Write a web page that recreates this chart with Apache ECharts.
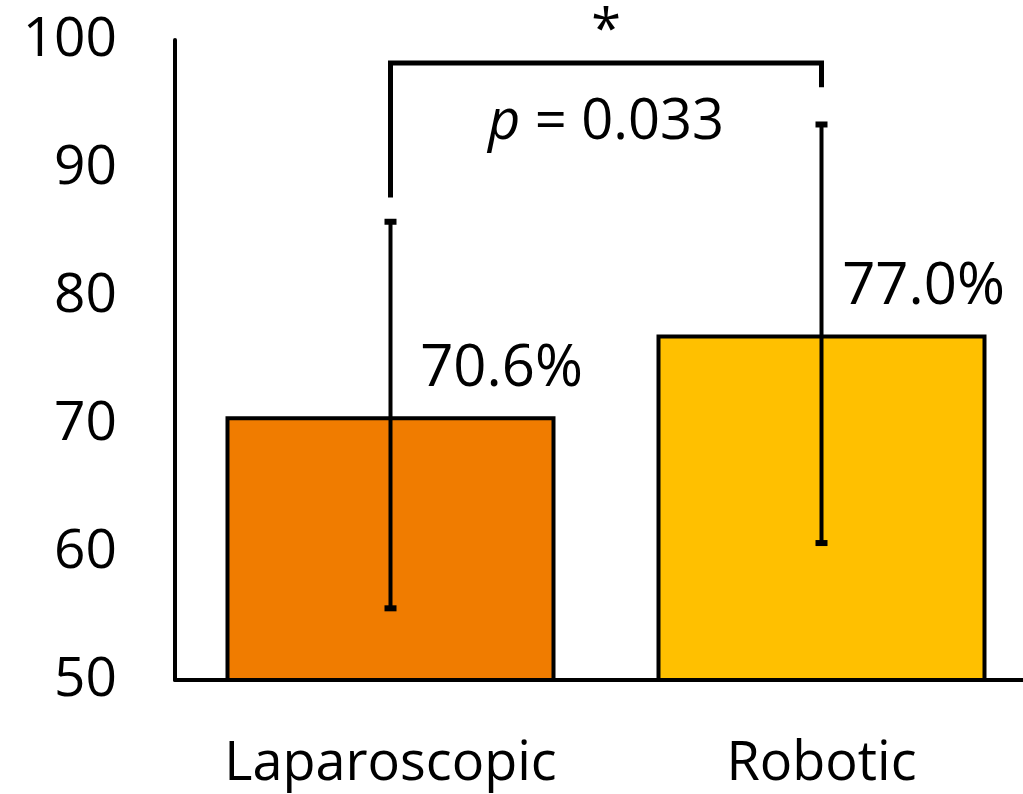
<!DOCTYPE html>
<html>
<head>
<meta charset="utf-8">
<script src="https://cdn.jsdelivr.net/npm/echarts@6/dist/echarts.min.js"></script>
<style>
html,body{margin:0;padding:0;background:#fff;}
#chart{width:1023px;height:794px;}
</style>
</head>
<body>
<div id="chart"></div>
<script>
// Data
var categories = ['Laparoscopic', 'Robotic'];
var means = [70.6, 77.0];
var errLow = [55.6, 60.7];
var errHigh = [85.8, 93.4];
var barColors = ['#F07C00', '#FFC000'];
var yTicks = { min: 50, max: 100, interval: 10 };
// significance bracket (y values) : left end, top, right end
var bracketLeft = [87.7];
var bracketTop = [98.2];
var bracketRight = [96.3];
var starText = '*';
var pText = '0.033';

var FONT = 'Open Sans';
var labelOffsetX = [111, 102];

var barData = means.map(function (v, i) {
  return { value: v, itemStyle: { color: barColors[i] }, label: { offset: [labelOffsetX[i], 0] } };
});
var errData = categories.map(function (c, i) { return [i, errLow[i], errHigh[i]]; });
var bracketData = bracketTop.map(function (t, i) { return [0, bracketLeft[i], t, 1, bracketRight[i]]; });

var chart = echarts.init(document.getElementById('chart'), null, { renderer: 'canvas' });
chart.setOption({
  animation: false,
  backgroundColor: '#ffffff',
  grid: { left: 175, top: 40, width: 862, height: 640, containLabel: false, outerBoundsMode: 'none' },
  xAxis: {
    type: 'category',
    data: categories,
    axisLine: { show: true, lineStyle: { color: '#000', width: 4 } },
    axisTick: { show: false },
    axisLabel: { color: '#000', fontFamily: FONT, fontSize: 54, margin: 58, interval: 0, hideOverlap: false },
    splitLine: { show: false }
  },
  yAxis: {
    type: 'value',
    min: yTicks.min, max: yTicks.max, interval: yTicks.interval,
    axisLine: { show: true, lineStyle: { color: '#000', width: 4 } },
    axisTick: { show: false },
    axisLabel: { color: '#000', fontFamily: FONT, fontSize: 55, margin: 58 },
    splitLine: { show: false }
  },
  series: [
    {
      type: 'bar',
      data: barData,
      barWidth: 330,
      itemStyle: { borderColor: '#000', borderWidth: 4 },
      label: {
        show: true,
        position: 'top',
        distance: 18,
        color: '#000',
        fontFamily: FONT,
        fontSize: 58,
        formatter: function (p) { return p.value.toFixed(1) + '%'; }
      },
      z: 2
    },
    {
      type: 'custom',
      data: errData,
      clip: false,
      z: 5,
      renderItem: function (params, api) {
        var x = api.value(0);
        var lo = api.coord([x, api.value(1)]);
        var hi = api.coord([x, api.value(2)]);
        return {
          type: 'group',
          children: [
            { type: 'line', shape: { x1: lo[0], y1: lo[1], x2: hi[0], y2: hi[1] }, style: { stroke: '#000', lineWidth: 4 } },
            { type: 'rect', shape: { x: hi[0] - 6, y: hi[1] - 3, width: 12, height: 6 }, style: { fill: '#000' } },
            { type: 'rect', shape: { x: lo[0] - 6, y: lo[1] - 3, width: 12, height: 6 }, style: { fill: '#000' } }
          ]
        };
      }
    },
    {
      type: 'custom',
      data: bracketData,
      clip: false,
      z: 6,
      renderItem: function (params, api) {
        var a = api.coord([api.value(0), api.value(1)]);
        var b = api.coord([api.value(0), api.value(2)]);
        var c = api.coord([api.value(3), api.value(2)]);
        var d = api.coord([api.value(3), api.value(4)]);
        var mid = (b[0] + c[0]) / 2;
        return {
          type: 'group',
          children: [
            { type: 'polyline', shape: { points: [a, b, c, d] }, style: { stroke: '#000', lineWidth: 5, fill: null, lineJoin: 'miter' } },
            { type: 'text', x: mid, y: b[1] - 30, style: { text: starText, fill: '#000', font: '54px "' + FONT + '"', align: 'center', verticalAlign: 'middle' } },
            { type: 'text', x: mid, y: b[1] + 60, style: {
                text: '{i|p} = ' + pText, fill: '#000', fontFamily: FONT, fontSize: 56, align: 'center', verticalAlign: 'middle',
                rich: { i: { fontStyle: 'italic', fontFamily: FONT, fontSize: 56, fill: '#000' } }
              } }
          ]
        };
      }
    }
  ]
});
</script>
</body>
</html>
